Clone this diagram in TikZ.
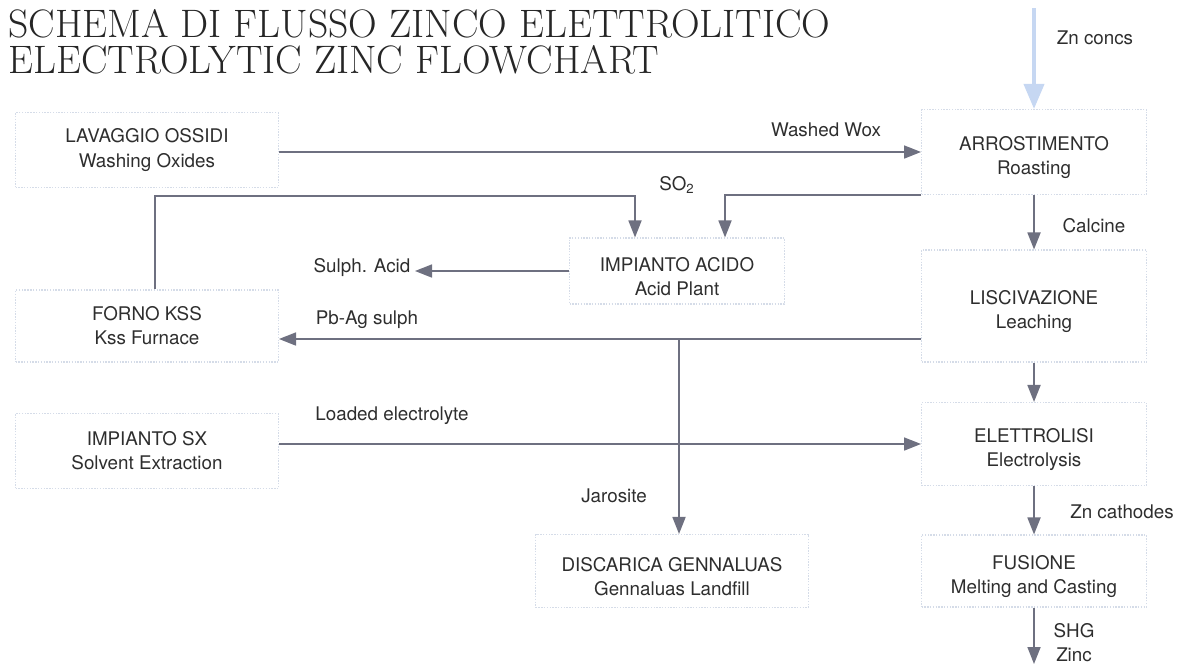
\documentclass[tikz,border=0pt]{standalone}
\usepackage{fontspec}
\setsansfont{TeX Gyre Heros}
\usetikzlibrary{arrows.meta,calc}
\definecolor{flowgray}{HTML}{6E7080}
\definecolor{boxdot}{HTML}{D5DCE8}
\definecolor{feedblue}{HTML}{C6D7F2}
\definecolor{inkgray}{HTML}{2E2E2E}
\newcommand{\boxpad}{\rule{0pt}{14pt}}

\begin{document}
\begin{tikzpicture}[x=0.02cm, y=-0.02cm,
    every node/.style={font=\sffamily\fontsize{10.7}{13.7}\selectfont, text=inkgray},
    box/.style={draw=boxdot, dash pattern=on 0.8pt off 0.8pt, line width=0.6pt, align=center, inner sep=0pt},
    flow/.style={draw=flowgray, line width=1pt, -{Triangle[length=3.4mm, width=2.6mm]}},
    lbl/.style={inner sep=0pt, align=center}]
	\useasboundingbox (0,0) rectangle (1180,666);

	% ================= titolo =================
	\node[anchor=north west, inner sep=0pt, align=left, text=black!85,
	      font=\rmfamily\fontsize{22.6}{20.5}\selectfont] (title) at (8,9)
	      {SCHEMA DI FLUSSO ZINCO ELETTROLITICO\\ELECTROLYTIC ZINC FLOWCHART};

	% ================= colonna destra (linea principale) =================
	\node[box, minimum width=4.5cm, minimum height=1.7cm] (roast) at (1034,152) {\boxpad ARROSTIMENTO\\Roasting};
	\node[box, minimum width=4.5cm, minimum height=2.24cm] (leach) at (1034,306) {\boxpad LISCIVAZIONE\\Leaching};
	\node[box, minimum width=4.5cm, minimum height=1.66cm] (elet) at (1034,444) {\boxpad ELETTROLISI\\Electrolysis};
	\node[box, minimum width=4.5cm, minimum height=1.44cm] (fus) at (1034,571) {\boxpad FUSIONE\\Melting and Casting};

	% ================= colonna sinistra =================
	\node[box, minimum width=5.26cm, minimum height=1.5cm] (lav) at (147,150) {LAVAGGIO OSSIDI\\Washing Oxides};
	\node[box, minimum width=5.26cm, minimum height=1.44cm] (kss) at (147,326) {FORNO KSS\\Kss Furnace};
	\node[box, minimum width=5.26cm, minimum height=1.5cm] (sx) at (147,451) {IMPIANTO SX\\Solvent Extraction};

	% ================= centro =================
	\node[box, minimum width=4.3cm, minimum height=1.32cm] (acid) at (677,271) {\boxpad IMPIANTO ACIDO\\Acid Plant};
	\node[box, minimum width=5.46cm, minimum height=1.46cm] (land) at (672,571) {\boxpad DISCARICA GENNALUAS\\Gennaluas Landfill};

	% punti liberi
	\coordinate (feed) at (1034,8);
	\coordinate (out) at (1034,664);
	\coordinate (so2l) at (635,196);
	\coordinate (acidout) at (415,271);
	\coordinate (pbag) at (679,339);

	% alimentazione
	\draw[feedblue, line width=2.2pt, -{Triangle[length=5mm, width=4mm]}] (feed) -- (roast.north);

	% linea principale
	\draw[flow] (roast.south) -- (leach.north);
	\draw[flow] (leach.south) -- (elet.north);
	\draw[flow] (elet.south) -- (fus.north);
	\draw[flow] (fus.south) -- (out);

	% flussi laterali
	\draw[flow] (lav.east |- roast.west) -- (roast.west);
	\draw[flow] (roast.south west) -| ($(acid.north)+(48,0)$);
	\draw[flow] (kss.north -| 155,0) |- (so2l) -- (acid.north -| so2l);
	\draw[flow] (acid.west) -- (acidout);
	\draw[flow] (leach.west |- pbag) -- (kss.east |- pbag);
	\draw[flow] (pbag) -- (land.north -| pbag);
	\draw[flow] (sx.east |- elet.west) -- (elet.west);

	% etichette
	\node[lbl] (lfeed) at (1095,38) {Zn concs};
	\node[lbl] (lwox) at (826,130) {Washed Wox};
	\node[lbl] (lso2) at (677,185) {SO\textsubscript{2}};
	\node[lbl] (lcalc) at (1094,226) {Calcine};
	\node[lbl] (lsulph) at (362,268) {Sulph. Acid};
	\node[lbl] (lpbag) at (367,320) {Pb-Ag sulph};
	\node[lbl] (ljar) at (614,496) {Jarosite};
	\node[lbl] (lload) at (392,416) {Loaded electrolyte};
	\node[lbl] (lcath) at (1122,512) {Zn cathodes};
	\node[lbl] (lshg) at (1074,643) {SHG\\Zinc};
\end{tikzpicture}
\end{document}
